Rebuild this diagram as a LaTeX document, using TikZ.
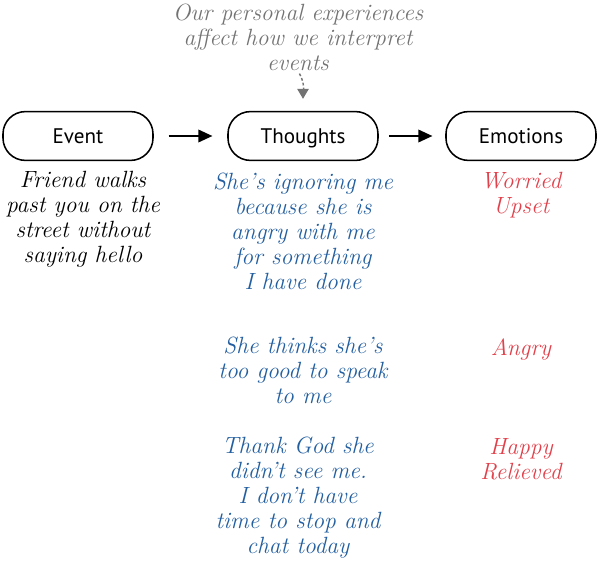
\documentclass[tikz,border=0pt]{standalone}
\usepackage{fontspec}
\setsansfont{PT Sans}
\usetikzlibrary{arrows.meta,positioning}
\definecolor{thoughtblue}{RGB}{35,95,160}
\definecolor{feelred}{RGB}{225,65,75}
\definecolor{notegray}{RGB}{115,115,115}
\tikzset{
  stage/.style={draw,line width=1.1pt,rounded corners=0.56cm,minimum width=3.75cm,minimum height=1.22cm,
    text height=10.5pt,text depth=0pt,font=\sffamily\fontsize{15}{18}\selectfont},
  hand/.style={align=center,inner sep=0pt,anchor=north,font=\itshape\fontsize{16.7}{17.7}\selectfont},
  flow/.style={-{Triangle[length=10pt,width=9pt]},line width=1.1pt},
}
\begin{document}
\begin{tikzpicture}[x=0.025cm,y=-0.025cm]
  \useasboundingbox (0,0) rectangle (600,572);
  \node[stage] (event) at (78,136) {Event};
  \node[stage] (thoughts) at (303,136) {Thoughts};
  \node[stage] (emotions) at (521,136) {Emotions};
  \draw[flow,shorten <=0.37cm,shorten >=0.37cm] (event) -- (thoughts);
  \draw[flow,shorten <=0.25cm,shorten >=0.32cm] (thoughts) -- (emotions);

  \node[hand,notegray] (note) at (298,4) {Our personal experiences\\affect how we interpret\\events};
  \draw[notegray,line width=1pt,dash pattern=on 2pt off 1.5pt,-{Triangle[length=7pt,width=8pt]},shorten <=2pt,shorten >=0.3cm]
    (note.south) to[out=-60,in=90] (thoughts.north);

  \node[hand] (friend) at (83,171) {Friend walks\\past you on the\\street without\\saying hello};

  \node[hand,thoughtblue] (ignoring) at (303,173) {She's ignoring me\\because she is\\angry with me\\for something\\I have done};
  \node[hand,thoughtblue] (toogood) at (303,337) {She thinks she's\\too good to speak\\to me};
  \node[hand,thoughtblue] (thankgod) at (298,437) {Thank God she\\didn't see me.\\I don't have\\time to stop and\\chat today};

  \node[hand,feelred] (worried) at (521,172) {Worried\\Upset};
  \node[hand,feelred] (angry) at (521,338) {Angry};
  \node[hand,feelred] (happy) at (521,438) {Happy\\Relieved};
\end{tikzpicture}
\end{document}
